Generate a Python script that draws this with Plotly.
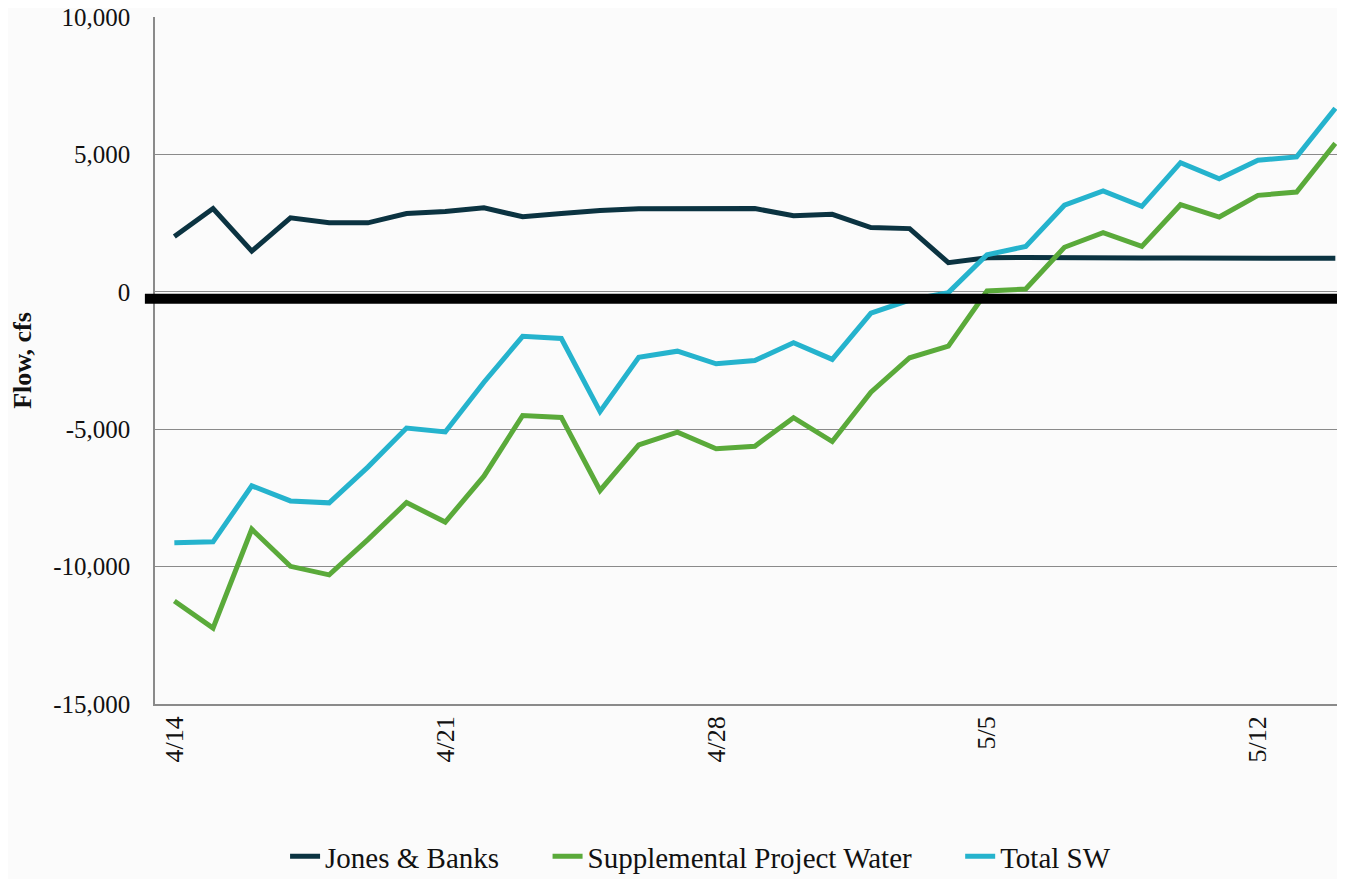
import plotly.graph_objects as go

# dates on the x axis, one point per day
dates = ["4/14", "4/15", "4/16", "4/17", "4/18", "4/19", "4/20", "4/21", "4/22", "4/23",
         "4/24", "4/25", "4/26", "4/27", "4/28", "4/29", "4/30", "5/1", "5/2", "5/3",
         "5/4", "5/5", "5/6", "5/7", "5/8", "5/9", "5/10", "5/11", "5/12", "5/13", "5/14"]
date_ticks = ["4/14", "4/21", "4/28", "5/5", "5/12"]

# flows, cfs
jones_banks = [2010, 3030, 1480, 2690, 2510, 2510, 2850, 2920, 3060, 2730,
               2850, 2960, 3020, 3030, 3030, 3030, 2770, 2820, 2340, 2300,
               1060, 1240, 1250, 1230, 1230, 1230, 1230, 1230, 1230, 1230, 1220]
supplemental = [-11250, -12240, -8640, -9990, -10300, -9020, -7670, -8380, -6710, -4500,
                 -4570, -7230, -5570, -5110, -5710, -5620, -4580, -5450, -3650, -2400,
                 -1980, 30, 100, 1620, 2150, 1650, 3170, 2720, 3510, 3630, 5400]
total_sw = [-9130, -9100, -7060, -7610, -7680, -6380, -4960, -5100, -3290, -1620,
            -1700, -4360, -2380, -2160, -2620, -2500, -1850, -2460, -780, -300,
            -30, 1350, 1650, 3150, 3670, 3110, 4700, 4110, 4790, 4910, 6680]

y_ticks = [-15000, -10000, -5000, 0, 5000, 10000]
y_tick_text = ["-15,000", "-10,000", "-5,000", "0", "5,000", "10,000"]

ref_line_value = -250   # heavy black reference line just under zero

pad = "&nbsp;" * 6   # extra room between legend entries
series = [
    ("Jones & Banks", jones_banks, "#0b3341"),
    ("Supplemental Project Water", supplemental, "#5aaa3a"),
    ("Total SW", total_sw, "#25b3cd"),
]

fig = go.Figure()
for i, (name, vals, color) in enumerate(series):
    label = name + (pad if i < len(series) - 1 else "")
    fig.add_trace(go.Scatter(x=dates, y=vals, name=label, mode="lines",
                             line=dict(color=color, width=5)))

# the thick black line sits on top of the series
fig.add_shape(type="line", xref="paper", yref="y", x0=-0.0085, x1=1,
              y0=ref_line_value, y1=ref_line_value,
              line=dict(color="black", width=10), layer="above")

# page body adds an 8px offset, so the figure is a little smaller than the window
fig.update_layout(
    width=1337, height=871,
    margin=dict(l=147, r=0, t=9, b=175),
    paper_bgcolor="#fbfbfb", plot_bgcolor="#fbfbfb",
    font=dict(family="Liberation Serif", color="#111111"),
    hovermode=False,
    legend=dict(orientation="h", xref="container", yref="container",
                x=0.518, xanchor="center", y=0.026, yanchor="middle",
                font=dict(size=29, family="Liberation Serif", color="#111111"),
                bgcolor="rgba(0,0,0,0)"),
    xaxis=dict(type="category", range=[-0.5, 30.25], tickmode="array",
               tickvals=date_ticks, ticktext=date_ticks, tickangle=-90,
               tickfont=dict(size=26), showgrid=False, zeroline=False,
               showline=True, linecolor="#8a8a8a", linewidth=1.5,
               ticks="", ticklabelstandoff=0, automargin=False),
    yaxis=dict(range=[-15000, 10000], tickmode="array", tickvals=y_ticks,
               ticktext=y_tick_text, tickfont=dict(size=25),
               showgrid=True, gridcolor="#8a8a8a", gridwidth=1.3,
               zeroline=False, showline=True, linecolor="#8a8a8a", linewidth=1.5,
               ticks="", ticklabelstandoff=18, automargin=False,
               ticklabeloverflow="allow",
               title=dict(text="<b>Flow, cfs</b>", font=dict(size=26), standoff=20)),
)

fig.write_html("out.html")
